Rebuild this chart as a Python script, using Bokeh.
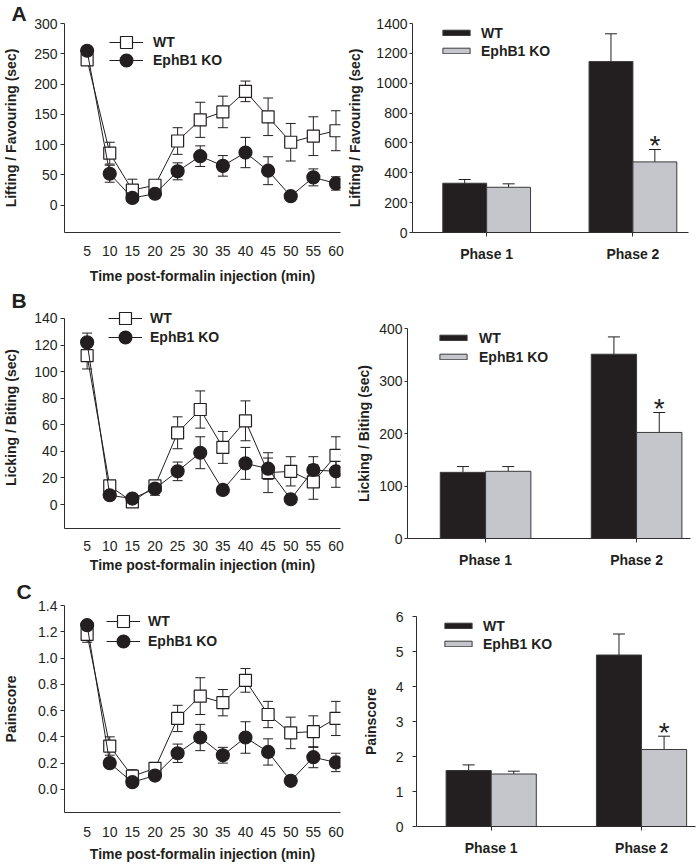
from bokeh.plotting import figure
from bokeh.models import (ColumnDataSource, Whisker, TeeHead, Legend, LegendItem,
                          Label, FixedTicker, Range1d, PrintfTickFormatter, Title)
from bokeh.layouts import column, row
from bokeh.embed import file_html
from bokeh.resources import INLINE

# ---------------- data ----------------
time_min = [5, 10, 15, 20, 25, 30, 35, 40, 45, 50, 55, 60]
series_names = ["WT", "EphB1 KO"]
phase_labels = ["Phase 1", "Phase 2"]
phase_pos = [1, 2]

# A: Lifting / Favouring (sec)
lift_wt = [240, 86, 25, 33, 106, 141, 154, 188, 146, 104, 114, 123]
lift_wt_sem = [8, 18, 18, 8, 22, 29, 26, 17, 31, 31, 32, 33]
lift_ko = [255, 52, 12, 19, 56, 81, 65, 87, 57, 15, 46, 36]
lift_ko_sem = [6, 14, 5, 7, 14, 17, 17, 25, 23, 3, 14, 11]
lift_phase_wt = [330, 1145]
lift_phase_wt_sem = [25, 186]
lift_phase_ko = [303, 473]
lift_phase_ko_sem = [23, 83]

# B: Licking / Biting (sec)
lick_wt = [112, 14, 2, 14, 54, 71.5, 43, 63, 24, 25, 17, 37]
lick_wt_sem = [10, 3, 2, 4, 12, 14, 12, 15, 15, 11, 13, 14]
lick_ko = [122, 7, 4.5, 12, 25, 39, 11, 31, 27, 4, 26, 25]
lick_ko_sem = [7, 2, 2, 5, 7, 12, 2, 12, 8, 2, 10, 12]
lick_phase_wt = [126, 351]
lick_phase_wt_sem = [11, 33]
lick_phase_ko = [128, 202]
lick_phase_ko_sem = [9, 38]

# C: Painscore
pain_wt = [1.18, 0.33, 0.10, 0.16, 0.54, 0.71, 0.66, 0.83, 0.57, 0.43, 0.44, 0.54]
pain_wt_sem = [0.06, 0.07, 0.05, 0.04, 0.10, 0.14, 0.10, 0.09, 0.10, 0.12, 0.12, 0.13]
pain_ko = [1.25, 0.20, 0.055, 0.105, 0.275, 0.395, 0.26, 0.395, 0.285, 0.065, 0.245, 0.205]
pain_ko_sem = [0.03, 0.03, 0.01, 0.03, 0.07, 0.10, 0.06, 0.12, 0.10, 0.01, 0.08, 0.07]
pain_phase_wt = [1.6, 4.9]
pain_phase_wt_sem = [0.16, 0.6]
pain_phase_ko = [1.5, 2.2]
pain_phase_ko_sem = [0.08, 0.38]

lift_ticks = [0, 50, 100, 150, 200, 250, 300]
lick_ticks = [0, 20, 40, 60, 80, 100, 120, 140]
pain_ticks = [0.0, 0.2, 0.4, 0.6, 0.8, 1.0, 1.2, 1.4]
lift_phase_ticks = [0, 200, 400, 600, 800, 1000, 1200, 1400]
lick_phase_ticks = [0, 100, 200, 300, 400]
pain_phase_ticks = [0, 1, 2, 3, 4, 5, 6]

# ---------------- style ----------------
FONT = "Liberation Sans"
INK = "#231f20"
AXC = "#2e2e2e"
KO_FILL = "#c4c6cc"
BAR_EDGE = "#3a3a3a"


def base_fig(w, h, xr, yr, mb, letter=None):
    l, r, t, b = mb
    p = figure(width=w, height=h, x_range=xr, y_range=yr, output_backend="svg",
               toolbar_location=None, min_border_left=l, min_border_right=r,
               min_border_top=t, min_border_bottom=b)
    if letter is not None:
        txt, offset, standoff = letter
        p.title = Title(text=txt, align="left", offset=offset, standoff=standoff,
                        text_font=FONT, text_font_size="21px", text_font_style="bold",
                        text_color=INK)
    p.outline_line_color = None
    p.xgrid.visible = False
    p.ygrid.visible = False
    p.background_fill_color = "white"
    p.border_fill_color = "white"
    for ax in (p.xaxis[0], p.yaxis[0]):
        ax.axis_line_color = AXC
        ax.axis_line_width = 1
        ax.major_tick_line_color = AXC
        ax.minor_tick_line_color = None
        ax.major_tick_in = 0
        ax.major_label_text_font = FONT
        ax.major_label_text_font_size = "14px"
        ax.major_label_text_color = INK
        ax.axis_label_text_font = FONT
        ax.axis_label_text_font_size = "14px"
        ax.axis_label_text_font_style = "bold"
        ax.axis_label_text_color = INK
    return p


def one_legend(label, renderers, xy, gw, gh, standoff):
    return Legend(items=[LegendItem(label=label, renderers=renderers)],
                  location=xy, padding=0, margin=0, spacing=0,
                  glyph_width=gw, glyph_height=gh, label_standoff=standoff, label_height=17,
                  label_text_font=FONT, label_text_font_size="14px",
                  label_text_font_style="bold", label_text_color=INK,
                  border_line_color=None, background_fill_alpha=0)


def line_panel(w, h, mb, yr, ybounds, yticks, ylabel, wt, wt_e, ko, ko_e, fmt,
               xl_std, xa_std, ya_std, leg_x, leg_y, standoff, letter):
    p = base_fig(w, h, Range1d(0, 61), Range1d(*yr), mb, letter)
    xa, ya = p.xaxis[0], p.yaxis[0]
    xa.ticker = FixedTicker(ticks=time_min)
    xa.major_tick_out = 0
    xa.major_label_standoff = xl_std
    xa.axis_label = "Time post-formalin injection (min)"
    xa.axis_label_standoff = xa_std
    ya.ticker = FixedTicker(ticks=yticks)
    ya.bounds = ybounds
    ya.major_tick_out = 4
    ya.major_label_standoff = 3
    ya.axis_label = ylabel
    ya.axis_label_standoff = ya_std
    if fmt:
        ya.formatter = PrintfTickFormatter(format=fmt)
    specs = [(wt, wt_e, "square", "white", 12, 30), (ko, ko_e, "circle", INK, 13, 32)]
    for i, (vals, errs, marker, fill, size, gh) in enumerate(specs):
        src = ColumnDataSource(dict(x=time_min, y=vals,
                                    lo=[v - e for v, e in zip(vals, errs)],
                                    hi=[v + e for v, e in zip(vals, errs)]))
        p.add_layout(Whisker(source=src, base="x", upper="hi", lower="lo",
                             line_color=INK, line_width=1,
                             upper_head=TeeHead(size=10, line_color=INK, line_width=1),
                             lower_head=TeeHead(size=10, line_color=INK, line_width=1)))
        ln = p.line("x", "y", source=src, line_color=INK, line_width=1)
        sc = p.scatter("x", "y", source=src, marker=marker, size=size,
                       fill_color=fill, line_color=INK, line_width=1.2)
        p.add_layout(one_legend(series_names[i], [ln, sc], (leg_x, leg_y[i]), 34, gh, standoff))
    return p


def bar_panel(w, h, mb, xr, yr, yticks, ylabel, wt, wt_e, ko, ko_e,
              tick_out, lab_std, ya_std, leg_x, leg_y, standoff):
    p = base_fig(w, h, Range1d(*xr), Range1d(*yr), mb)
    xa, ya = p.xaxis[0], p.yaxis[0]
    xa.ticker = FixedTicker(ticks=phase_pos)
    xa.major_label_overrides = {pp: lab for pp, lab in zip(phase_pos, phase_labels)}
    xa.major_label_text_font_style = "bold"
    xa.major_tick_out = 4
    xa.major_label_standoff = 9
    ya.ticker = FixedTicker(ticks=yticks)
    ya.major_tick_out = tick_out
    ya.major_label_standoff = lab_std
    ya.axis_label = ylabel
    ya.axis_label_standoff = ya_std
    for i, (vals, errs, off, fill) in enumerate([(wt, wt_e, -0.15, INK), (ko, ko_e, 0.15, KO_FILL)]):
        src = ColumnDataSource(dict(x=[pp + off for pp in phase_pos], top=vals,
                                    hi=[v + e for v, e in zip(vals, errs)]))
        p.add_layout(Whisker(source=src, base="x", upper="hi", lower="top",
                             line_color=INK, line_width=1,
                             upper_head=TeeHead(size=12, line_color=INK, line_width=1),
                             lower_head=None))
        r = p.vbar(x="x", top="top", bottom=0, width=0.3, source=src,
                   fill_color=fill, line_color=BAR_EDGE, line_width=1)
        p.add_layout(one_legend(series_names[i], [r], (leg_x, leg_y[i]), 34, 7, standoff))
    p.add_layout(Label(x=phase_pos[1] + 0.15, y=ko[1] + ko_e[1], text="*",
                       text_font=FONT, text_font_size="28px", text_color=INK,
                       text_align="center", text_baseline="alphabetic", y_offset=4))
    return p


la = line_panel(344, 290, (58, 4, 23, 58), (-45, 300), (-45, 300), lift_ticks,
                "Lifting / Favouring (sec)", lift_wt, lift_wt_sem, lift_ko, lift_ko_sem, None,
                13, 9, 12, 45, (175, 156), 10, ("A", -53, -3))
ba = bar_panel(355, 290, (61, 11, 23, 58), (0.493, 2.38), (0, 1400), lift_phase_ticks,
               "Lifting / Favouring (sec)", lift_phase_wt, lift_phase_wt_sem,
               lift_phase_ko, lift_phase_ko_sem, 3, 2, 10, 27, (191, 173), 8)

lb = line_panel(344, 285, (58, 4, 16, 47), (-18, 149), (-18, 140), lick_ticks,
                "Licking / Biting (sec)", lick_wt, lick_wt_sem, lick_ko, lick_ko_sem, None,
                12, 3, 12, 44, (195, 175), 8, ("B", -53, -10))
bb = bar_panel(355, 285, (63, 9, 38, 37), (0.483, 2.357), (0, 400), lick_phase_ticks,
               "Licking / Biting (sec)", lick_phase_wt, lick_phase_wt_sem,
               lick_phase_ko, lick_phase_ko_sem, 3, 2, 4, 29, (192, 173), 9)

lc = line_panel(344, 292, (58, 4, 28, 55), (-0.176, 1.4), (-0.176, 1.4), pain_ticks,
                "Painscore", pain_wt, pain_wt_sem, pain_ko, pain_ko_sem, "%.1f",
                14, 6, 16, 42, (176, 155), 8, ("C", -48, 5))
bc = bar_panel(355, 292, (72, 4, 41, 41), (0.503, 2.359), (0, 6), pain_phase_ticks,
               "Painscore", pain_phase_wt, pain_phase_wt_sem,
               pain_phase_ko, pain_phase_ko_sem, 4, 9, 14, 25, (192, 174), 8)

layout = column(row(column(la), column(ba)), row(column(lb), column(bb)), row(column(lc), column(bc)))
open("out.html", "w").write(file_html(layout, INLINE))
